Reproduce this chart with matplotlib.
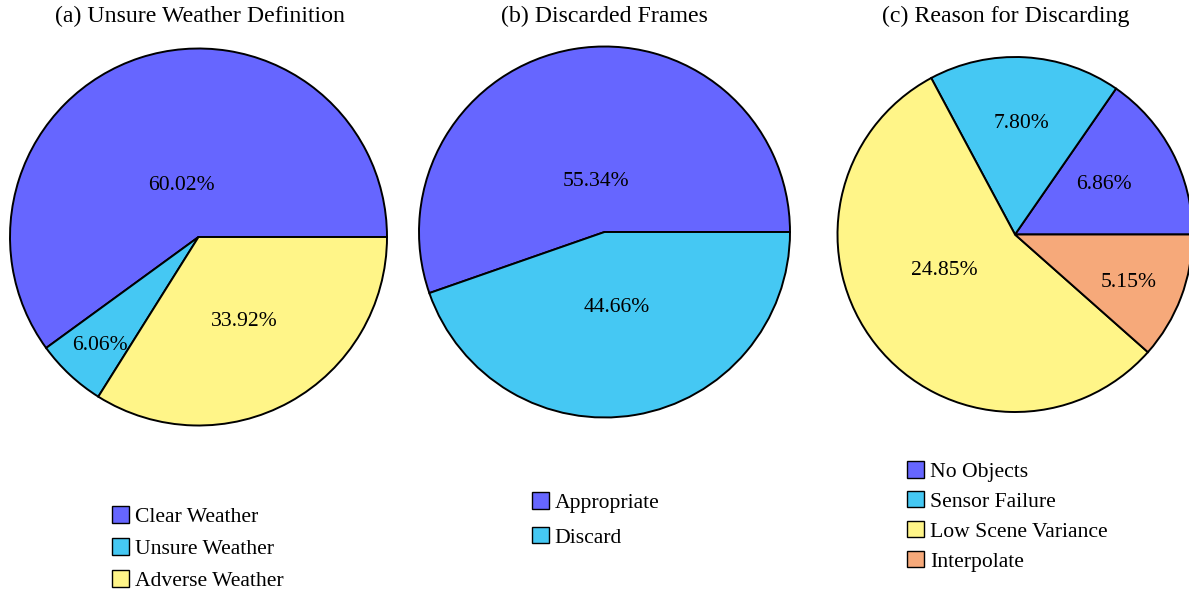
import numpy as np
import matplotlib
matplotlib.use("Agg")
import matplotlib.pyplot as plt
from matplotlib.patches import Patch

plt.rcParams['font.family'] = ['Liberation Serif', 'DejaVu Serif']

# ---- data -------------------------------------------------------------
titles = ["(a) Unsure Weather Definition", "(b) Discarded Frames", "(c) Reason for Discarding"]

weather_labels = ["Clear Weather", "Unsure Weather", "Adverse Weather"]
weather_values = [60.02, 6.06, 33.92]

frames_labels = ["Appropriate", "Discard"]
frames_values = [55.34, 44.66]

reason_labels = ["No Objects", "Sensor Failure", "Low Scene Variance", "Interpolate"]
reason_values = [6.86, 7.80, 24.85, 5.15]

PURPLE = "#6666ff"
CYAN = "#45c8f3"
YELLOW = "#fff588"
SALMON = "#f6a97a"

weather_colors = [PURPLE, CYAN, YELLOW]
frames_colors = [PURPLE, CYAN]
reason_colors = [PURPLE, CYAN, YELLOW, SALMON]

# radial position of each percentage label (fraction of radius) and angular nudge (deg)
weather_text_r = [0.30, 0.77, 0.50]
weather_text_da = [0, 0, 0]
frames_text_r = [0.29, 0.40]
frames_text_da = [0, 0]
reason_text_r = [0.58, 0.64, 0.44, 0.69]
reason_text_da = [3, 0, -13, -1]

# ---- layout -----------------------------------------------------------
W, H = 1189, 589
fig = plt.figure(figsize=(W / 100, H / 100), dpi=100)

TITLE_FS = 17.2
PCT_FS = 15.6
LEG_FS = 15.6


def pie_axes(cx, cy, r):
    """Axes placed so the unit circle has centre (cx, cy) and radius r in pixels."""
    ax = fig.add_axes([(cx - r) / W, (H - cy - r) / H, 2 * r / W, 2 * r / H])
    return ax


def draw_pie(ax, values, colors, text_r, text_da):
    wedges, _ = ax.pie(values, colors=colors, startangle=0, counterclock=True,
                       radius=1.0, center=(0, 0),
                       wedgeprops=dict(edgecolor="black", linewidth=1.4))
    ax.set_xlim(-1, 1)
    ax.set_ylim(-1, 1)
    ax.set_aspect("equal")
    ax.axis("off")
    for w, v, r, da in zip(wedges, values, text_r, text_da):
        mid = np.deg2rad((w.theta1 + w.theta2) / 2 + da)
        ax.text(r * np.cos(mid), r * np.sin(mid), f"{v:.2f}%",
                ha="center", va="center_baseline", fontsize=PCT_FS)
    return wedges


def legend_at(labels, colors, x, y, spacing):
    handles = [Patch(facecolor=c, edgecolor="black", linewidth=1.0) for c in colors]
    fig.legend(handles, labels, loc="upper left",
               bbox_to_anchor=(x / W, 1 - y / H), frameon=False,
               fontsize=LEG_FS, handlelength=0.8, handleheight=0.8,
               handletextpad=0.25, labelspacing=spacing, borderpad=0, borderaxespad=0)


ax_a = pie_axes(198.5, 237, 188.5)
draw_pie(ax_a, weather_values, weather_colors, weather_text_r, weather_text_da)

ax_b = pie_axes(604.5, 232, 185.5)
draw_pie(ax_b, frames_values, frames_colors, frames_text_r, frames_text_da)

ax_c = pie_axes(1015, 234.5, 177.5)
draw_pie(ax_c, reason_values, reason_colors, reason_text_r, reason_text_da)

for cx, t in zip([200, 604, 1006], titles):
    fig.text(cx / W, 1 - 16 / H, t, ha="center", va="center", fontsize=TITLE_FS)

legend_at(weather_labels, weather_colors, 112, 506, 0.52)
legend_at(frames_labels, frames_colors, 532, 492, 0.65)
legend_at(reason_labels, reason_colors, 907, 461, 0.42)

fig.savefig("out.png", dpi=100)
